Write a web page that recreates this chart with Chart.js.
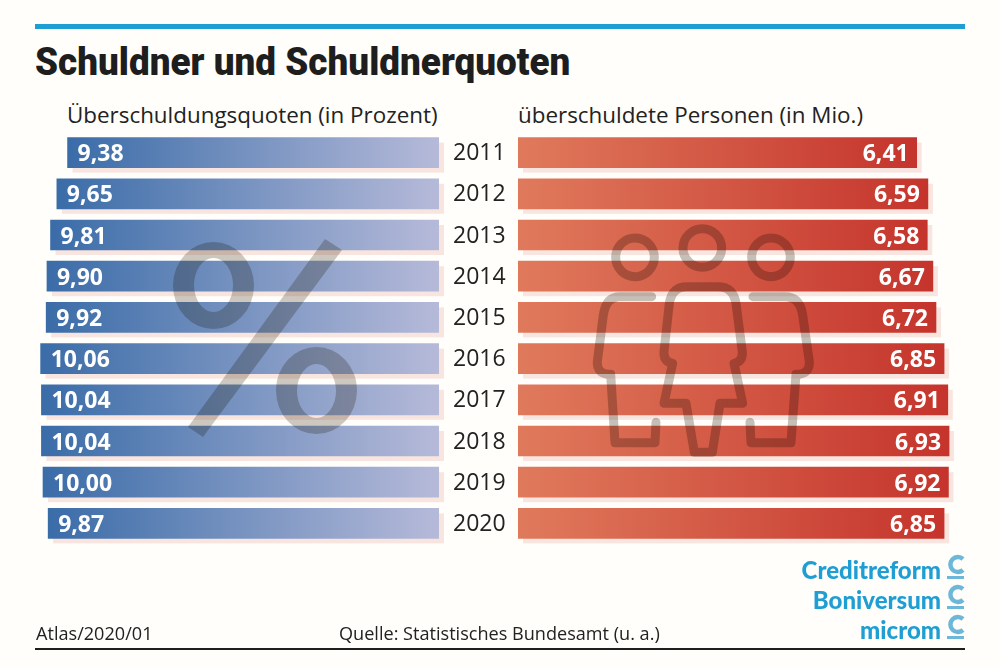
<!DOCTYPE html>
<html lang="de">
<head>
<meta charset="utf-8">
<title>Schuldner und Schuldnerquoten</title>
<script src="https://cdn.jsdelivr.net/npm/chart.js@4"></script>
<style>
  html, body { margin: 0; padding: 0; background: #fffefb; }
  #page { position: relative; width: 1000px; height: 667px; overflow: hidden; color: #222; font-family: "Open Sans", sans-serif; }
  #page > * { position: absolute; }
  canvas { display: block; }
  .rule { left: 35px; width: 930px; }
  .head { top: 100px; font-size: 22.4px; line-height: 30px; white-space: nowrap; }
  .foot { top: 621px; font-size: 18.1px; line-height: 24px; white-space: nowrap; }
  .brand { right: 59px; font-family: Lato, sans-serif; font-weight: 900; font-size: 24px; line-height: 30px; color: #1f9ed3; white-space: nowrap; }
  #title { left: 35px; top: 38px; font-family: Roboto, sans-serif; font-weight: 900; font-size: 38px; line-height: 48px; color: #1e1e1e; white-space: nowrap; transform-origin: left center; transform: scaleX(0.97); }
</style>
</head>
<body>
<div id="page">
  <div class="rule" style="top:24px;height:5px;background:#1f9ed3"></div>
  <div id="title">Schuldner und Schuldnerquoten</div>
  <div class="head" style="left:67px">Überschuldungsquoten (in Prozent)</div>
  <div class="head" style="left:518px">überschuldete Personen (in Mio.)</div>

  <canvas id="quoten" width="518" height="412" style="left:0;top:132px"></canvas>
  <canvas id="personen" width="482" height="412" style="left:518px;top:132px"></canvas>

  <!-- Prozentzeichen und Personen liegen abgedunkelt über den Balken -->
  <svg width="1000" height="667" style="left:0;top:0;mix-blend-mode:multiply">
    <g fill="#cdc9c2">
      <path fill-rule="evenodd" d="M173 285.5a40.5 43.5 0 1 0 81 0a40.5 43.5 0 1 0 -81 0zM194 285a19.5 27 0 1 1 39 0a19.5 27 0 1 1 -39 0z"/>
      <path fill-rule="evenodd" d="M276 390.5a40.5 43.5 0 1 0 81 0a40.5 43.5 0 1 0 -81 0zM297 391a19.5 27 0 1 1 39 0a19.5 27 0 1 1 -39 0z"/>
      <polygon points="325,239 342,250 203,437 188,427"/>
    </g>
    <g transform="translate(580 215) scale(0.3333)" fill="none" stroke="#c4c0ba" stroke-width="27" stroke-linejoin="round" stroke-linecap="round">
      <circle cx="165" cy="127" r="58"/>
      <circle cx="367" cy="99" r="58"/>
      <circle cx="573" cy="127" r="58"/>
      <path d="M320 215H415Q460 215 468 265L487 410Q489 440 462 445L488 565H420L397 712H343L318 565H252L278 445Q250 440 252 410L268 265Q276 215 320 215Z"/>
      <path d="M215 245H120Q78 245 70 300L52 440Q50 478 92 478L105 683H225L228 622"/>
      <path d="M519 245H615Q660 245 668 300L688 440Q690 478 648 478L633 683H513L510 622"/>
    </g>
    <g fill="none" stroke="#6db9dd" stroke-width="4.5">
      <path d="M963 559A7.5 7.5 0 1 0 963 570"/>
      <path d="M963 589A7.5 7.5 0 1 0 963 600"/>
      <path d="M963 619A7.5 7.5 0 1 0 963 630"/>
    </g>
    <g stroke="#6db9dd" stroke-width="3">
      <path d="M947 577.5H964M947 607.5H964M947 637.5H964"/>
    </g>
  </svg>

  <div class="brand" style="top:555px">Creditreform</div>
  <div class="brand" style="top:585px">Boniversum</div>
  <div class="brand" style="top:615px">microm</div>

  <div class="foot" style="left:36px">Atlas/2020/01</div>
  <div class="foot" style="left:339px">Quelle: Statistisches Bundesamt (u. a.)</div>
  <div class="rule" style="top:648px;height:2px;background:#1e1e1e"></div>
</div>

<script>
// Werte
const years = ['2011', '2012', '2013', '2014', '2015', '2016', '2017', '2018', '2019', '2020'];
const quoten = [9.38, 9.65, 9.81, 9.90, 9.92, 10.06, 10.04, 10.04, 10.00, 9.87];
const personen = [6.41, 6.59, 6.58, 6.67, 6.72, 6.85, 6.91, 6.93, 6.92, 6.85];

const FONT = '"Open Sans", sans-serif';

// Farbverlauf läuft je Balken vom freien Ende bis zur Grundlinie
const barGradient = (startColor, endColor) => (context) => {
  const { chart, dataIndex, dataset } = context;
  const x = chart.scales.x;
  if (!x || dataIndex === undefined) return startColor;
  const a = x.getPixelForValue(dataset.data[dataIndex]);
  const b = x.getPixelForValue(0);
  if (!Number.isFinite(a) || !Number.isFinite(b)) return startColor;
  const g = chart.ctx.createLinearGradient(Math.min(a, b), 0, Math.max(a, b), 0);
  g.addColorStop(0, startColor);
  g.addColorStop(1, endColor);
  return g;
};

// Schatten hinter den Balken, Werte weiß im Balken
const barDecor = {
  id: 'barDecor',
  beforeDatasetsDraw(chart) {
    const ctx = chart.ctx;
    ctx.save();
    ctx.fillStyle = '#f9e5df';
    chart.getDatasetMeta(0).data.forEach((bar) => {
      const left = Math.min(bar.x, bar.base);
      const w = Math.abs(bar.x - bar.base);
      ctx.fillRect(left + 5, bar.y - bar.height / 2 + 5, w, bar.height);
    });
    ctx.restore();
  },
  afterDatasetsDraw(chart) {
    const ctx = chart.ctx;
    const reversed = chart.scales.x.options.reverse;
    ctx.save();
    ctx.fillStyle = '#fff';
    ctx.font = '700 23px ' + FONT;
    ctx.textBaseline = 'middle';
    ctx.textAlign = reversed ? 'left' : 'right';
    chart.getDatasetMeta(0).data.forEach((bar, i) => {
      const label = chart.data.datasets[0].data[i].toFixed(2).replace('.', ',');
      ctx.fillText(label, bar.x + (reversed ? 10 : -8), bar.y + 2);
    });
    ctx.restore();
  },
};

const makeChart = (id, values, colors, xMax, reverse, showYears) =>
  new Chart(document.getElementById(id), {
    type: 'bar',
    data: {
      labels: years,
      datasets: [{
        data: values,
        backgroundColor: barGradient(colors[0], colors[1]),
        borderWidth: 0,
        barThickness: 30,
      }],
    },
    options: {
      indexAxis: 'y',
      responsive: false,
      animation: false,
      layout: { padding: 0 },
      plugins: { legend: { display: false }, tooltip: { enabled: false } },
      scales: {
        x: { display: false, min: 0, max: xMax, reverse },
        y: {
          display: showYears,
          position: 'right',
          // Achse darf die Zeichenfläche nicht verkleinern
          afterFit: (scale) => {
            scale.width = showYears ? 79 : 0;
            scale.paddingTop = 0;
            scale.paddingBottom = 0;
          },
          border: { display: false },
          grid: { display: false, drawTicks: false },
          ticks: { color: '#222', padding: 14, labelOffset: 1, font: { family: FONT, size: 23 } },
        },
      },
    },
    plugins: [barDecor],
  });

makeChart('quoten', quoten, ['#3a6ca8', '#b6bad9'], 11.086, true, true);
makeChart('personen', personen, ['#e07a5c', '#c5342c'], 7.749, false, false);
</script>
</body>
</html>
